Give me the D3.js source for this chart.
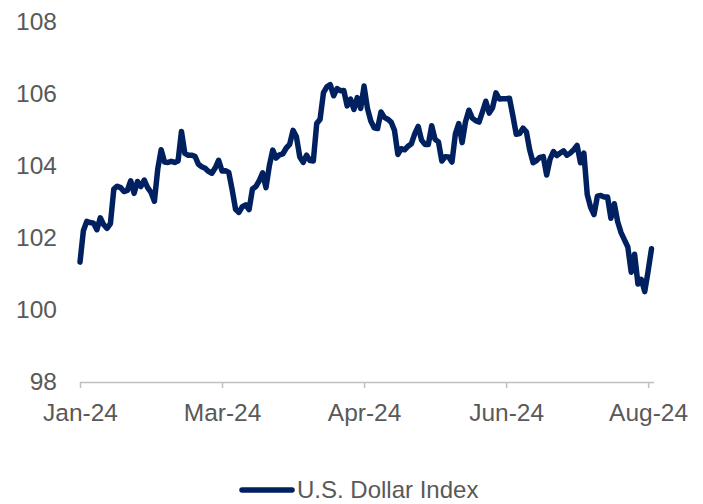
<!DOCTYPE html>
<html lang="en">
<head>
    <meta charset="UTF-8">
    <title>U.S. Dollar Index</title>
    <style>
        body{ margin:0; background:#fff; }
        svg{ display:block; font-family:"Liberation Sans", Arial, sans-serif; }
    </style>
</head>
<body>
    <script src="https://cdnjs.cloudflare.com/ajax/libs/d3/7.8.2/d3.min.js"></script>
    <script>

        // daily index values, Jan-24 to end of Aug-24
        const indexValues = [
            101.33, 102.20, 102.46, 102.43, 102.41, 102.23, 102.56, 102.37, 102.27, 102.40,
            103.36, 103.44, 103.40, 103.29, 103.32, 103.59, 103.24, 103.57, 103.43, 103.61,
            103.40, 103.27, 103.02, 103.92, 104.45, 104.11, 104.10, 104.13, 104.10, 104.14,
            104.96, 104.35, 104.30, 104.30, 104.27, 104.05, 103.98, 103.94, 103.85, 103.80,
            103.95, 104.16, 103.86, 103.87, 103.82, 103.34, 102.80, 102.71, 102.87, 102.92,
            102.79, 103.36, 103.43, 103.59, 103.81, 103.40, 104.01, 104.44, 104.22, 104.31,
            104.34, 104.50, 104.60, 104.99, 104.81, 104.25, 104.10, 104.30, 104.15, 104.14,
            105.18, 105.30, 106.04, 106.20, 106.26, 105.95, 106.15, 106.09, 106.10, 105.67,
            105.86, 105.57, 105.90, 105.60, 106.22, 105.60, 105.25, 105.06, 105.04, 105.50,
            105.35, 105.30, 105.22, 104.99, 104.32, 104.48, 104.45, 104.55, 104.62, 104.90,
            105.10, 104.72, 104.60, 104.60, 105.12, 104.74, 104.67, 104.14, 104.26, 104.25,
            104.11, 104.89, 105.18, 104.65, 105.23, 105.55, 105.33, 105.26, 105.22, 105.50,
            105.80, 105.47, 105.62, 106.03, 105.86, 105.87, 105.87, 105.88, 105.40, 104.88,
            104.90, 105.05, 104.95, 104.44, 104.09, 104.15, 104.24, 104.26, 103.75, 104.19,
            104.40, 104.29, 104.36, 104.42, 104.30, 104.36, 104.45, 104.57, 104.09, 104.36,
            103.21, 102.85, 102.65, 103.16, 103.18, 103.14, 103.14, 102.55, 102.95, 102.45,
            102.15, 101.95, 101.75, 101.05, 101.55, 100.72, 100.85, 100.51, 101.08, 101.70
        ];

        // x axis labels and the day they sit on
        const tickLabels = ["Jan-24", "Mar-24", "Apr-24", "Jun-24", "Aug-24"];
        const tickDays = [0, 42, 84, 126, 168];

        const yTicks = [98, 100, 102, 104, 106, 108];
        const seriesName = "U.S. Dollar Index";

        const w = 703;
        const h = 504;
        const textColor = "#595959";
        const lineColor = "#002060";

        const svg = d3.select("body")
            .append("svg")
            .attr("width", w)
            .attr("height", h);

        const x = d3.scaleLinear()
            .domain([0, indexValues.length - 1])
            .range([80, 651.5]);

        const y = d3.scaleLinear()
            .domain([98, 108])
            .range([382, 22]);

        // y axis: labels only
        const yAxis = svg.append("g")
            .attr("transform", "translate(57,0)")
            .call(d3.axisLeft(y).tickValues(yTicks).tickSize(0).tickPadding(0).tickFormat(d3.format("d")));
        yAxis.select(".domain").remove();
        yAxis.selectAll("text")
            .attr("fill", textColor)
            .style("font-size", "24.5px");

        // x axis
        const xAxis = svg.append("g")
            .attr("transform", "translate(0,382)")
            .call(d3.axisBottom(x)
                .tickValues(tickDays)
                .tickSize(6)
                .tickSizeOuter(0)
                .tickPadding(16)
                .tickFormat((d, i) => tickLabels[i]));
        xAxis.select(".domain")
            .attr("stroke", "#bfbfbf")
            .attr("stroke-width", 1.5)
            .attr("d", "M80,0.5H654");
        xAxis.selectAll(".tick line")
            .attr("stroke", "#bfbfbf")
            .attr("stroke-width", 1.5);
        xAxis.selectAll("text")
            .attr("fill", textColor)
            .style("font-size", "24.5px");

        // the series
        const line = d3.line()
            .x((d, i) => x(i))
            .y(d => y(d));

        svg.append("path")
            .datum(indexValues)
            .attr("d", line)
            .attr("fill", "none")
            .attr("stroke", lineColor)
            .attr("stroke-width", 5.5)
            .attr("stroke-linejoin", "round")
            .attr("stroke-linecap", "round");

        // legend
        const legend = svg.append("g")
            .attr("transform", "translate(0,490)");
        legend.append("line")
            .attr("x1", 242).attr("x2", 292)
            .attr("y1", 0).attr("y2", 0)
            .attr("stroke", lineColor)
            .attr("stroke-width", 5.5)
            .attr("stroke-linecap", "round");
        legend.append("text")
            .attr("x", 297)
            .attr("y", 0)
            .attr("dy", "0.35em")
            .attr("fill", textColor)
            .style("font-size", "24px")
            .text(seriesName);

    </script>
</body>
</html>
